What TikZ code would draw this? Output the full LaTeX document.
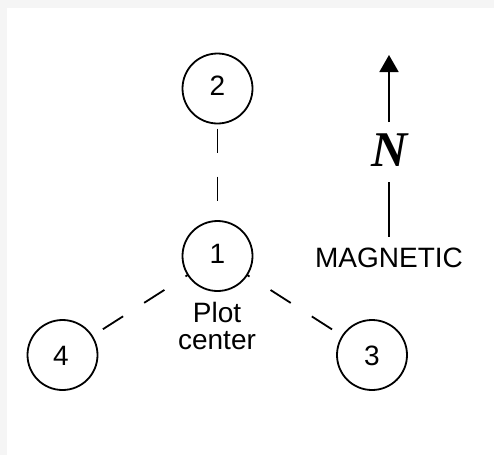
\documentclass[tikz,border=0pt]{standalone}
\usepackage{fontspec}
\setmainfont{Liberation Sans}
\newfontfamily\nfont{Liberation Serif}
\usetikzlibrary{arrows.meta}
\begin{document}
\begin{tikzpicture}[x=1pt,y=-1pt,
  plot/.style={circle,draw,line width=1.8pt,minimum size=70pt,inner sep=0pt,outer sep=0pt},
  lbl/.style={anchor=base,inner sep=0pt,font=\fontsize{28}{28}\selectfont},
  conn/.style={line width=1.8pt},
  diag/.style={conn,dash pattern=on 24pt off 25pt,dash phase=21pt},
  vert/.style={conn,dash pattern=on 24pt off 24pt,dash phase=43pt}]
\useasboundingbox (0,0) rectangle (494,455);
\fill[black!4] (0,0) rectangle (494,8);
\fill[black!4] (0,0) rectangle (7,455);
% plots
\node[plot] (p1) at (217.5,256) {};
\node[plot] (p2) at (217.5,88.5) {};
\node[plot] (p3) at (372,355) {};
\node[plot] (p4) at (62.5,355) {};
\node[lbl] (t1) at (217.5,263) {1};
\node[lbl] (t2) at (217.5,95) {2};
\node[lbl] (t3) at (372,365) {3};
\node[lbl] (t4) at (61,365) {4};
\node[lbl] (pc1) at (217,322) {Plot};
\node[lbl] (pc2) at (217,349) {center};
% dashed connectors
\draw[vert] (p2) -- (p1);
\draw[diag] (p1) -- (p3);
\draw[diag] (p1) -- (p4);
% north arrow
\node[anchor=base,inner sep=0pt,font=\nfont\bfseries\itshape\fontsize{50}{50}\selectfont] (N) at (390,166) {N};
\node[lbl] (mag) at (389,267) {MAGNETIC};
\coordinate (atop) at (389,55);
\coordinate (abot) at (389,122);
\coordinate (ltop) at (389,182);
\coordinate (lbot) at (389,237);
\draw[conn,-{Triangle[length=17pt,width=19pt]}] (abot) -- (atop);
\draw[conn] (ltop) -- (lbot);
\end{tikzpicture}
\end{document}
